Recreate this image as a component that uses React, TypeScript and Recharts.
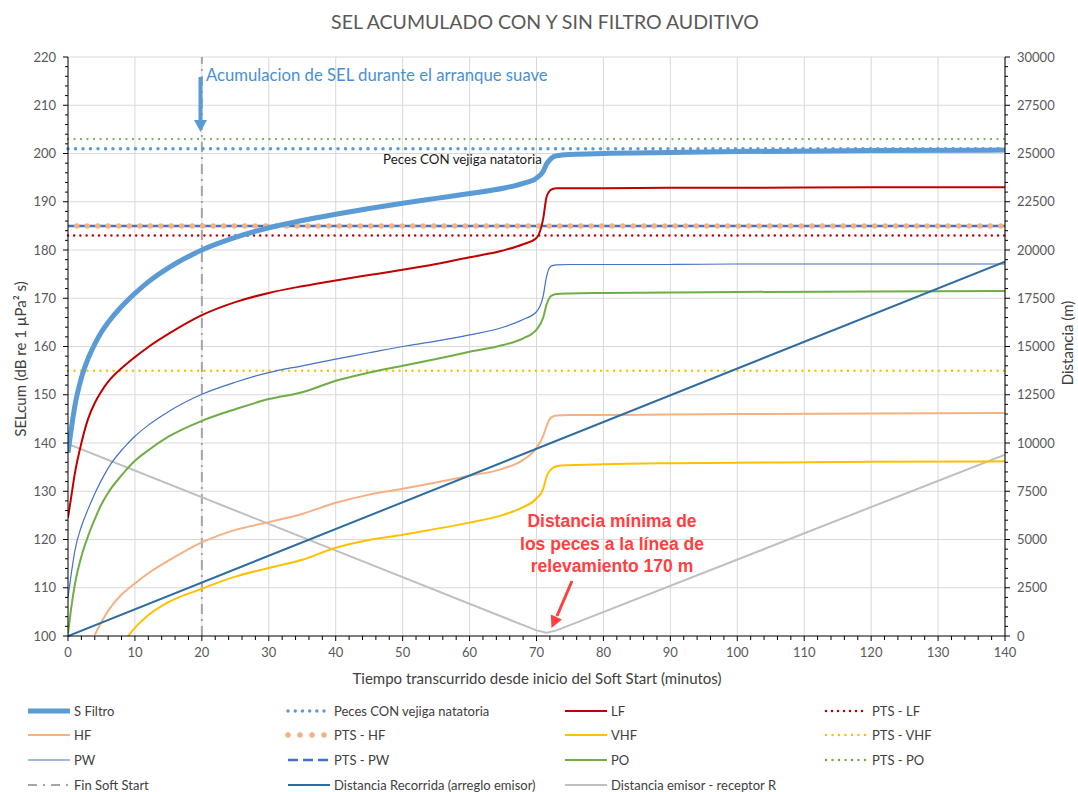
import React from 'react';
import { ComposedChart, Line, XAxis, YAxis, CartesianGrid, ReferenceLine } from 'recharts';

// minutes since the soft start began (shared by the SEL curves)
const minutes = [0, 0.5, 1, 2, 3, 4, 5, 6, 8, 9, 10, 12, 15, 20, 25, 30, 35, 40, 45, 50, 55, 60, 65, 68, 70, 71, 71.5, 72, 72.5, 73, 75, 80, 90, 100, 120, 140];

// SELcum (dB re 1 µPa² s)
const sFiltro = [138, 143, 147.5, 153.5, 157.5, 160.5, 163, 165, 168.3, 169.7, 171, 173.4, 176.3, 180, 182.6, 184.6, 186.1, 187.4, 188.6, 189.7, 190.7, 191.7, 192.8, 193.8, 194.9, 196.3, 197.8, 198.7, 199.3, 199.5, 199.8, 200, 200.2, 200.4, 200.6, 200.7];
const lf = [124.5, 129, 133.5, 140, 145, 148.3, 150.7, 152.7, 155.5, 156.7, 157.8, 159.9, 162.6, 166.5, 169.2, 171.1, 172.5, 173.7, 174.8, 175.9, 177.1, 178.5, 179.9, 181.2, 182.5, 186.5, 191, 192.3, 192.7, 192.8, 192.8, 192.8, 192.9, 192.9, 193, 193];
const pw = [108, 113, 117.5, 122.7, 126.3, 129.5, 132.3, 134.8, 138.5, 140, 141.4, 143.7, 146.5, 150.1, 152.6, 154.6, 156, 157.4, 158.7, 160, 161.1, 162.4, 164, 165.6, 167.2, 170.5, 174.5, 176.4, 176.8, 176.9, 177, 177, 177, 177.1, 177.1, 177.1];
const po = [100.5, 106, 110.5, 116.5, 120.7, 124.2, 127.3, 129.7, 133.3, 134.9, 136.3, 138.5, 141.3, 144.6, 147, 149.1, 150.5, 152.9, 154.6, 156, 157.4, 158.9, 160.3, 161.7, 163.5, 166, 168.7, 170.2, 170.7, 170.9, 171, 171.1, 171.2, 171.3, 171.4, 171.5];
const hf = [null, null, null, null, null, 100.2, 102.9, 105.2, 108.6, 109.8, 110.9, 113, 115.6, 119.4, 122, 123.6, 125.3, 127.6, 129.3, 130.5, 131.8, 133.2, 134.7, 136.5, 139, 141.5, 143.5, 145, 145.5, 145.7, 145.8, 145.8, 145.9, 146, 146.1, 146.2];
const vhf = [null, null, null, null, null, null, null, null, null, 100, 101.7, 104.3, 107, 109.8, 112.3, 114.1, 115.8, 118.3, 119.9, 121, 122.2, 123.5, 125.1, 126.7, 128.5, 130.5, 133, 134.3, 134.9, 135.2, 135.4, 135.6, 135.8, 135.9, 136.1, 136.2];

// distances (m), right axis
const distRecorridaMin = [0, 140];
const distRecorrida = [0, 19400];
const distReceptorMin = [0, 70, 71.5, 73, 140];
const distReceptor = [9950, 290, 170, 290, 9400];

// threshold levels (dB)
const ptsPO = 203;
const pecesCON = 201;
const ptsHF = 185;
const ptsPW = 185;
const ptsLF = 183;
const ptsVHF = 155;
const finSoftStart = 20;

// axis ticks
const xTicks = Array.from({ length: 71 }, (_, i) => i * 2);
const xGrid = [10, 20, 30, 40, 50, 60, 70, 80, 90, 100, 110, 120, 130, 140];
const selTicks = Array.from({ length: 61 }, (_, i) => 100 + i * 2);
const selGrid = [110, 120, 130, 140, 150, 160, 170, 180, 190, 200, 210, 220];
const distTicks = Array.from({ length: 61 }, (_, i) => i * 500);

const selData = minutes.map((t, i) => ({
  t,
  sFiltro: sFiltro[i],
  lf: lf[i],
  hf: hf[i],
  vhf: vhf[i],
  pw: pw[i],
  po: po[i],
}));
const recorridaData = distRecorridaMin.map((t, i) => ({ t, d: distRecorrida[i] }));
const receptorData = distReceptorMin.map((t, i) => ({ t, d: distReceptor[i] }));

const FONT = 'Lato, "Open Sans", sans-serif';
const TICK_COLOR = '#595959';
const TITLE_COLOR = '#404040';

const C = {
  sFiltro: '#5B9BD5',
  lf: '#C00000',
  hf: '#F4B183',
  vhf: '#FFC000',
  pw: '#4472C4',
  po: '#70AD47',
  fin: '#A6A6A6',
  recorrida: '#2E6DA4',
  receptor: '#BFBFBF',
};

const XTick = (props: any) => {
  const { x, y, payload } = props;
  const major = payload.value % 10 === 0;
  return (
    <g>
      <line x1={x} x2={x} y1={y} y2={y + (major ? 5 : 4)} stroke="#000" />
      {major && (
        <text x={x} y={y + 21} textAnchor="middle" fill={TICK_COLOR} fontSize={13} fontFamily={FONT}>
          {payload.value}
        </text>
      )}
    </g>
  );
};

const LeftTick = (props: any) => {
  const { x, y, payload } = props;
  const major = payload.value % 10 === 0;
  return (
    <g>
      <line x1={x - (major ? 5 : 3)} x2={x} y1={y} y2={y} stroke="#000" />
      {major && (
        <text x={x - 12} y={y} dy="0.35em" textAnchor="end" fill={TICK_COLOR} fontSize={13} fontFamily={FONT}>
          {payload.value}
        </text>
      )}
    </g>
  );
};

const RightTick = (props: any) => {
  const { x, y, payload } = props;
  const major = payload.value % 2500 === 0;
  return (
    <g>
      <line x1={x} x2={x + (major ? 5 : 3)} y1={y} y2={y} stroke="#000" />
      {major && (
        <text x={x + 12} y={y} dy="0.35em" textAnchor="start" fill={TICK_COLOR} fontSize={13} fontFamily={FONT}>
          {payload.value}
        </text>
      )}
    </g>
  );
};

type Swatch = { name: string; color: string; width: number; dash?: string; cap?: 'round' | 'butt'; col: number; row: number };

const legendItems: Swatch[] = [
  { name: 'S Filtro', color: C.sFiltro, width: 5, col: 0, row: 0 },
  { name: 'Peces CON vejiga natatoria', color: C.sFiltro, width: 3.5, dash: '0 7.2', cap: 'round', col: 1, row: 0 },
  { name: 'LF', color: C.lf, width: 2, col: 2, row: 0 },
  { name: 'PTS - LF', color: C.lf, width: 2.5, dash: '0 6', cap: 'round', col: 3, row: 0 },
  { name: 'HF', color: C.hf, width: 2, col: 0, row: 1 },
  { name: 'PTS - HF', color: C.hf, width: 5.5, dash: '0 12', cap: 'round', col: 1, row: 1 },
  { name: 'VHF', color: C.vhf, width: 2, col: 2, row: 1 },
  { name: 'PTS - VHF', color: C.vhf, width: 2.5, dash: '0 6.5', cap: 'round', col: 3, row: 1 },
  { name: 'PW', color: C.pw, width: 1.2, col: 0, row: 2 },
  { name: 'PTS - PW', color: C.pw, width: 2.5, dash: '10 5', col: 1, row: 2 },
  { name: 'PO', color: C.po, width: 2, col: 2, row: 2 },
  { name: 'PTS - PO', color: C.po, width: 2.5, dash: '0 6.5', cap: 'round', col: 3, row: 2 },
  { name: 'Fin Soft Start', color: C.fin, width: 2, dash: '9 6 2 6', col: 0, row: 3 },
  { name: 'Distancia Recorrida (arreglo emisor)', color: C.recorrida, width: 2, col: 1, row: 3 },
  { name: 'Distancia emisor - receptor R', color: C.receptor, width: 2, col: 2, row: 3 },
];
const legendColX = [28, 288, 565, 826];
const legendRowY = [711, 735, 760, 785];

export default function App() {
  return (
    <div style={{ position: 'absolute', left: 0, top: 0, width: 1078, height: 792, background: '#fff' }}>
      <ComposedChart
        width={1078}
        height={700}
        data={selData}
        margin={{ top: 57, right: 13, left: 8, bottom: 34 }}
      >
        <CartesianGrid stroke="#D9D9D9" verticalValues={xGrid} horizontalValues={selGrid} />
        <XAxis
          dataKey="t"
          type="number"
          domain={[0, 140]}
          ticks={xTicks}
          interval={0}
          tickSize={0}
          tickMargin={0}
          tick={<XTick />}
          tickLine={false}
          axisLine={{ stroke: '#000' }}
          height={30}
          allowDataOverflow
        />
        <YAxis
          type="number"
          domain={[100, 220]}
          ticks={selTicks}
          interval={0}
          tickSize={0}
          tickMargin={0}
          tick={<LeftTick />}
          tickLine={false}
          axisLine={{ stroke: '#000' }}
          width={60}
          allowDataOverflow
        />
        <YAxis
          yAxisId="dist"
          orientation="right"
          type="number"
          domain={[0, 30000]}
          ticks={distTicks}
          interval={0}
          tickSize={0}
          tickMargin={0}
          tick={<RightTick />}
          tickLine={false}
          axisLine={{ stroke: '#000' }}
          width={60}
        />

        <ReferenceLine x={finSoftStart} stroke={C.fin} strokeWidth={2} strokeDasharray="10 5 2 5" />
        <ReferenceLine y={ptsPO} stroke={C.po} strokeWidth={2.3} strokeDasharray="0 6.5" strokeLinecap="round" />
        <ReferenceLine y={pecesCON} stroke={C.sFiltro} strokeWidth={3.5} strokeDasharray="0 7.5" strokeLinecap="round" />
        <ReferenceLine y={ptsPW} stroke={C.pw} strokeWidth={2.5} strokeDasharray="7 3.5" />
        <ReferenceLine y={ptsHF} stroke={C.hf} strokeWidth={5.5} strokeDasharray="0 10.5" strokeDashoffset={-8.75} strokeLinecap="round" />
        <ReferenceLine y={ptsLF} stroke={C.lf} strokeWidth={2.5} strokeDasharray="0 6.2" strokeLinecap="round" />
        <ReferenceLine y={ptsVHF} stroke={C.vhf} strokeWidth={2.5} strokeDasharray="0 6.5" strokeLinecap="round" />

        <Line yAxisId="dist" data={receptorData} dataKey="d" type="linear" stroke={C.receptor} strokeWidth={2} dot={false} isAnimationActive={false} />
        <Line dataKey="sFiltro" type="monotone" stroke={C.sFiltro} strokeWidth={5} dot={false} isAnimationActive={false} />
        <Line dataKey="lf" type="monotone" stroke={C.lf} strokeWidth={2} dot={false} isAnimationActive={false} />
        <Line dataKey="hf" type="monotone" stroke={C.hf} strokeWidth={2} dot={false} isAnimationActive={false} />
        <Line dataKey="vhf" type="monotone" stroke={C.vhf} strokeWidth={2} dot={false} isAnimationActive={false} />
        <Line dataKey="pw" type="monotone" stroke={C.pw} strokeWidth={1.2} dot={false} isAnimationActive={false} />
        <Line dataKey="po" type="monotone" stroke={C.po} strokeWidth={2} dot={false} isAnimationActive={false} />
        <Line yAxisId="dist" data={recorridaData} dataKey="d" type="linear" stroke={C.recorrida} strokeWidth={2} dot={false} isAnimationActive={false} />
      </ComposedChart>

      <svg width={1078} height={792} style={{ position: 'absolute', left: 0, top: 0, pointerEvents: 'none' }}>
        <text x={545} y={29} textAnchor="middle" fill="#595959" fontSize={19.5} fontFamily={FONT}>
          SEL ACUMULADO CON Y SIN FILTRO AUDITIVO
        </text>
        <text transform="translate(26,359) rotate(-90)" textAnchor="middle" fill={TITLE_COLOR} fontSize={15} fontFamily={FONT}>
          SELcum (dB re 1 µPa² s)
        </text>
        <text transform="translate(1073,343) rotate(-90)" textAnchor="middle" fill={TITLE_COLOR} fontSize={15} fontFamily={FONT}>
          Distancia (m)
        </text>
        <text x={537} y={684} textAnchor="middle" fill={TITLE_COLOR} fontSize={15} fontFamily={FONT}>
          Tiempo transcurrido desde inicio del Soft Start (minutos)
        </text>

        {/* soft start annotation */}
        <rect x={198.5} y={77} width={4} height={44} fill={C.sFiltro} />
        <polygon points="194,120 207,120 200.5,132" fill={C.sFiltro} />
        <text x={206} y={81} fill="#4A8FD2" fontSize={16.7} fontFamily={FONT}>
          Acumulacion de SEL durante el arranque suave
        </text>
        <text x={383} y={164} fill="#1a1a1a" fontSize={13.3} fontFamily={FONT}>
          Peces CON vejiga natatoria
        </text>

        {/* minimum distance annotation */}
        <text textAnchor="middle" fill="#FF4040" fontSize={17.5} fontWeight="bold" fontFamily='"Liberation Sans", Arial, sans-serif'>
          <tspan x={612} y={527}>Distancia mínima de</tspan>
          <tspan x={612} y={550}>los peces a la línea de</tspan>
          <tspan x={612} y={572}>relevamiento 170 m</tspan>
        </text>
        <line x1={572} y1={581} x2={557} y2={616} stroke="#FF4040" strokeWidth={3} />
        <polygon points="562,619.5 550.8,614.6 551.5,628" fill="#FF4040" />

        {/* legend */}
        {legendItems.map((it) => {
          const x0 = legendColX[it.col];
          const y = legendRowY[it.row];
          return (
            <g key={it.name}>
              <line
                x1={x0}
                x2={x0 + 42}
                y1={y}
                y2={y}
                stroke={it.color}
                strokeWidth={it.width}
                strokeDasharray={it.dash}
                strokeLinecap={it.cap || 'butt'}
              />
              <text x={x0 + 46} y={y} dy="0.35em" fill="#404040" fontSize={13} fontFamily={FONT}>
                {it.name}
              </text>
            </g>
          );
        })}
      </svg>
    </div>
  );
}
